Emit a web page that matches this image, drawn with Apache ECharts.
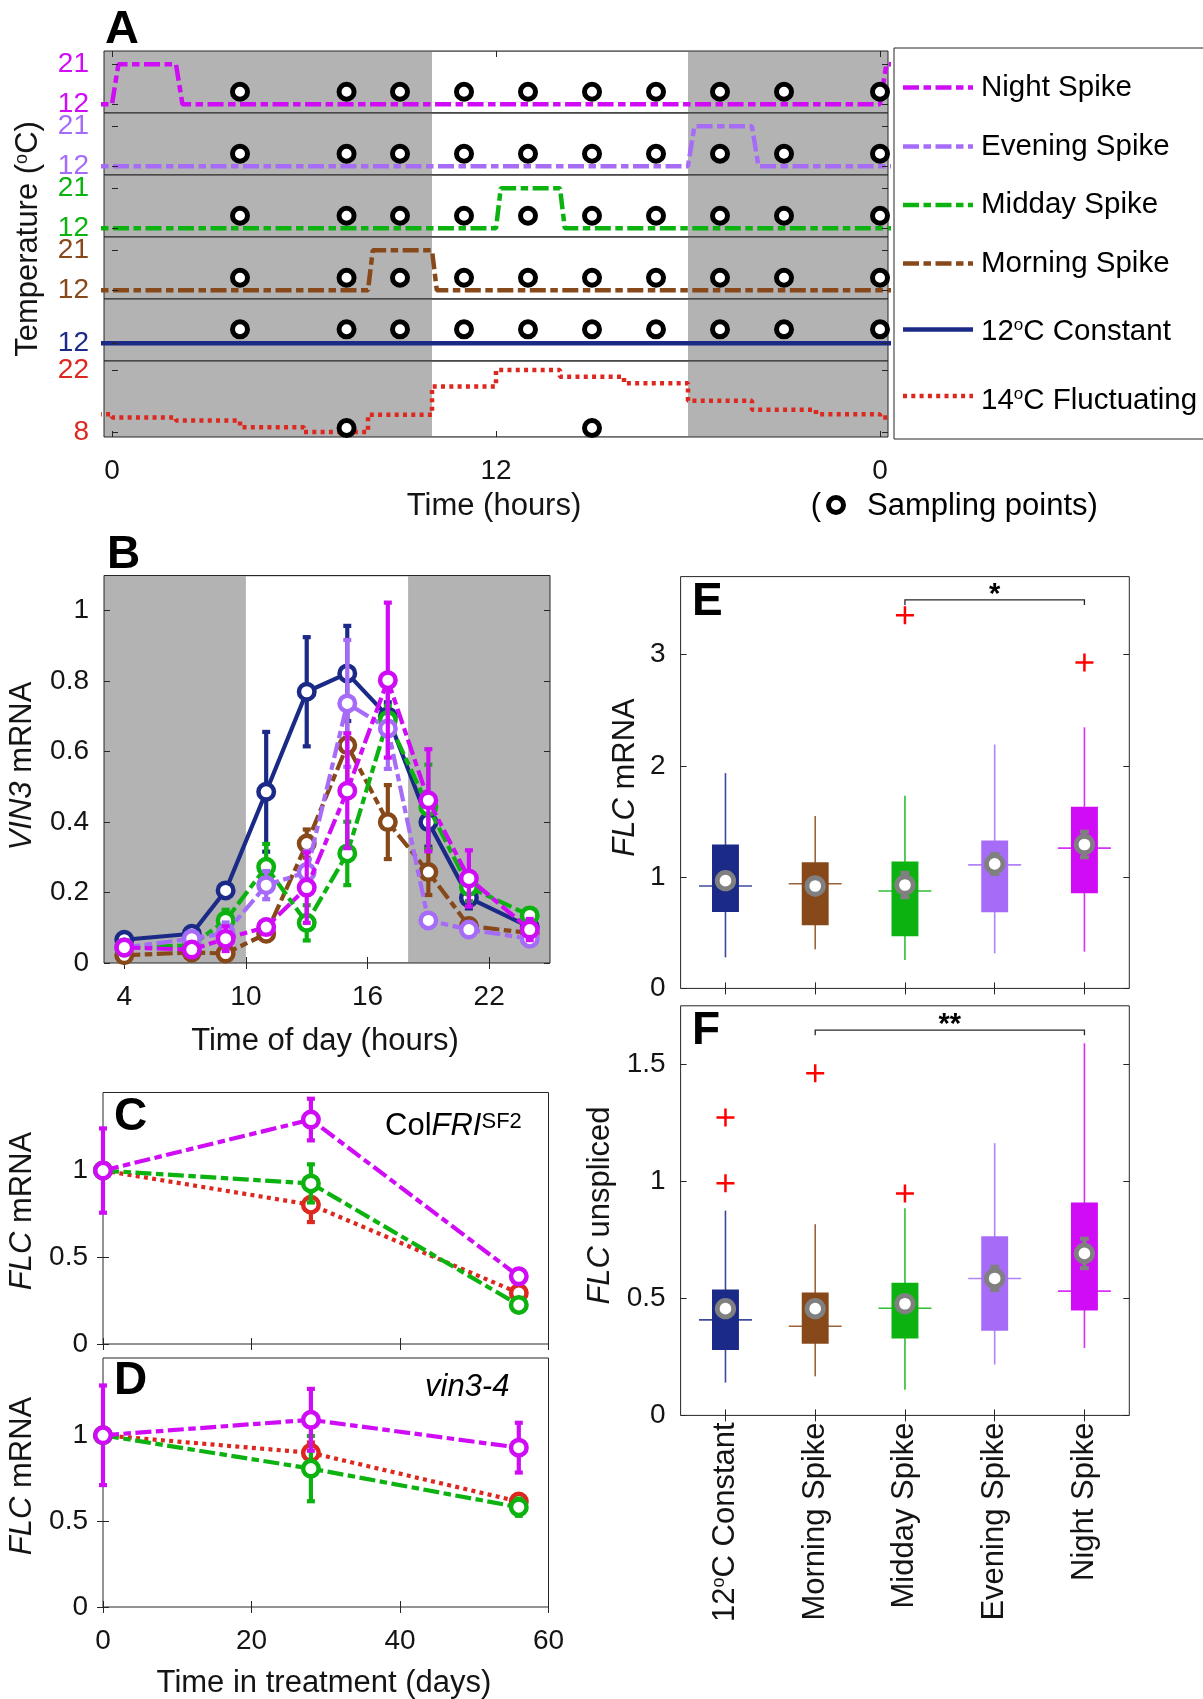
<!DOCTYPE html>
<html lang="en">
<head>
<meta charset="utf-8">
<title>Temperature spikes, VIN3 and FLC expression</title>
<script src="https://cdn.jsdelivr.net/npm/echarts@6/dist/echarts.min.js"></script>
<style>
  html, body { margin: 0; padding: 0; background: #ffffff; }
  #chart { width: 1203px; height: 1699px; }
</style>
</head>
<body>
<div id="chart"></div>
<script>
// ---------------- data ----------------

// Panel A: daily temperature regimes (hour of day -> degrees C).
// Hours outside 0-24 carry the cycle over from the neighbouring days.
const nightSpikeHours   = [-2, 0, 0.2, 2, 2.2, 24, 24.2, 26];
const nightSpikeTemps   = [12, 12, 21, 21, 12, 12, 21, 21];
const eveningSpikeHours = [-2, 18, 18.2, 20, 20.2, 26];
const eveningSpikeTemps = [12, 12, 21, 21, 12, 12];
const middaySpikeHours  = [-2, 12, 12.15, 14, 14.15, 26];
const middaySpikeTemps  = [12, 12, 21, 21, 12, 12];
const morningSpikeHours = [-2, 8, 8.15, 10, 10.15, 26];
const morningSpikeTemps = [12, 12, 21, 21, 12, 12];
const constantHours     = [-2, 26];
const constantTemps     = [12, 12];
// 14 C fluctuating regime: each value holds for two hours from the listed hour
const fluctHours = [-2, 0, 2, 4, 6, 8, 10, 12, 14, 16, 18, 20, 22, 24, 26];
const fluctTemps = [12.1, 11.35, 10.7, 9.2, 8.1, 11.95, 18.3, 22.0, 20.5, 19.0, 15.1, 13.1, 12.1, 11.35, 11.35];
const lightHours = [10, 18];                 // lights on, lights off
const samplingHours = [4, 7.33, 9, 11, 13, 15, 17, 19, 21, 24];
const fluctSamplingHours = [7.33, 15];
const dayHourTicks = [0, 12, 24];
const spikeTempTicks = [12, 21];
const constantTempTicks = [12];
const fluctTempTicks = [8, 22];

// Panel B: VIN3 mRNA through the day (mean, error)
const vin3Hours = [4, 7.33, 9, 11, 13, 15, 17, 19, 21, 24];
const vin3Constant    = [0.066, 0.083, 0.206, 0.486, 0.770, 0.822, 0.700, 0.400, 0.185, 0.102];
const vin3ConstantErr = [0.010, 0.010, 0.015, 0.170, 0.155, 0.135, 0.040, 0.070, 0.030, 0.010];
const vin3Morning     = [0.022, 0.030, 0.027, 0.083, 0.339, 0.618, 0.400, 0.258, 0.105, 0.085];
const vin3MorningErr  = [0.005, 0.005, 0.010, 0.020, 0.040, 0.120, 0.105, 0.065, 0.020, 0.010];
const vin3Midday      = [0.044, 0.050, 0.121, 0.273, 0.114, 0.311, 0.690, 0.443, 0.216, 0.135];
const vin3MiddayErr   = [0.010, 0.010, 0.030, 0.065, 0.050, 0.090, 0.040, 0.120, 0.040, 0.020];
const vin3Evening     = [0.044, 0.069, 0.085, 0.221, 0.258, 0.737, 0.666, 0.121, 0.095, 0.069];
const vin3EveningErr  = [0.005, 0.010, 0.030, 0.040, 0.060, 0.180, 0.115, 0.020, 0.015, 0.010];
const vin3Night       = [0.044, 0.038, 0.069, 0.102, 0.214, 0.489, 0.803, 0.462, 0.240, 0.095];
const vin3NightErr    = [0.005, 0.010, 0.035, 0.020, 0.100, 0.163, 0.220, 0.145, 0.080, 0.030];
const vin3HourTicks = [4, 10, 16, 22];
const vin3Ticks = [0, 0.2, 0.4, 0.6, 0.8, 1];

// Panels C and D: FLC mRNA over weeks of treatment
const treatmentDays = [0, 28, 56];
const colFlcNight     = [1, 1.294, 0.390];
const colFlcNightErr  = [0.243, 0.120, 0.030];
const colFlcMidday    = [1, 0.926, 0.225];
const colFlcMiddayErr = [0, 0.110, 0.020];
const colFlcFluct     = [1, 0.803, 0.294];
const colFlcFluctErr  = [0, 0.100, 0.020];
const vinFlcNight     = [1, 1.090, 0.928];
const vinFlcNightErr  = [0.290, 0.180, 0.145];
const vinFlcMidday    = [1, 0.806, 0.581];
const vinFlcMiddayErr = [0, 0.190, 0.050];
const vinFlcFluct     = [1, 0.898, 0.614];
const vinFlcFluctErr  = [0, 0.060, 0.030];
const dayTicks = [0, 20, 40, 60];
const flcTimeTicks = [0, 0.5, 1];

// Panels E and F: distributions per treatment
const treatments = ['12°C Constant', 'Morning Spike', 'Midday Spike', 'Evening Spike', 'Night Spike'];
const flcLow    = [0.279, 0.351, 0.255, 0.315, 0.330];
const flcQ1     = [0.686, 0.567, 0.468, 0.684, 0.854];
const flcMedian = [0.920, 0.940, 0.875, 1.110, 1.260];
const flcQ3     = [1.293, 1.134, 1.140, 1.328, 1.633];
const flcHigh   = [1.934, 1.549, 1.731, 2.191, 2.346];
const flcMean   = [0.968, 0.920, 0.929, 1.118, 1.293];
const flcMeanErr = [0.040, 0.040, 0.110, 0.090, 0.115];
const flcOutliers = [['Midday Spike', 3.352], ['Night Spike', 2.928]];
const flcSignif = ['Midday Spike', 'Night Spike', 3.49, '*'];
const flcTicks = [0, 1, 2, 3];

const unsplicedLow    = [0.140, 0.167, 0.110, 0.217, 0.288];
const unsplicedQ1     = [0.279, 0.306, 0.329, 0.362, 0.448];
const unsplicedMedian = [0.408, 0.381, 0.458, 0.585, 0.531];
const unsplicedQ3     = [0.538, 0.525, 0.567, 0.765, 0.910];
const unsplicedHigh   = [0.875, 0.817, 0.885, 1.163, 1.590];
const unsplicedMean   = [0.456, 0.456, 0.477, 0.585, 0.692];
const unsplicedMeanErr = [0.030, 0.030, 0.030, 0.050, 0.063];
const unsplicedOutliers = [['12°C Constant', 1.273], ['12°C Constant', 0.992], ['Morning Spike', 1.462], ['Midday Spike', 0.948]];
const unsplicedSignif = ['Morning Spike', 'Night Spike', 1.646, '**'];
const unsplicedTicks = [0, 0.5, 1, 1.5];

// ---------------- styles ----------------
const FONT = '"Liberation Sans", Arial, Helvetica, sans-serif';
const INK = '#141414';
const AXIS = '#262626';
const SHADE = '#b3b3b3';
const MEAN_GREY = '#808080';
const COLOR = {
  night: '#d00cf7',
  evening: '#a66cf8',
  midday: '#0cb20f',
  morning: '#87481a',
  constant: '#1b2a87',
  fluct: '#dc281e'
};
const DASHDOT = [16, 4.5, 7.5, 4.5];
const DOTTED = [4, 4.3];
const boxColors = [COLOR.constant, COLOR.morning, COLOR.midday, COLOR.evening, COLOR.night];
const SUP = { fontFamily: FONT, fontSize: 18, verticalAlign: 'top' };

// ---------------- builders ----------------
const grids = [], xAxes = [], yAxes = [], series = [], graphics = [];

function addGrid(left, top, width, height, bg) {
  grids.push({
    show: true, left, top, width, height,
    backgroundColor: bg || 'transparent',
    borderColor: AXIS, borderWidth: 1,
    containLabel: false, outerBoundsMode: 'none'
  });
  return grids.length - 1;
}
function addX(ax) { xAxes.push(ax); return xAxes.length - 1; }
function addY(ax) { yAxes.push(ax); return yAxes.length - 1; }

function tickCfg(values) {
  return values
    ? { show: true, inside: true, length: 6, customValues: values, lineStyle: { color: AXIS, width: 1 } }
    : { show: false };
}
function labelCfg(values, extra) {
  if (!extra) return { show: false };
  return Object.assign({ show: true, customValues: values, fontFamily: FONT, fontSize: 28, color: INK, margin: 15 }, extra);
}
function valAxis(g, pos, min, max, ticks, label) {
  return {
    type: 'value', gridIndex: g, position: pos, min, max, z: 4,
    axisLine: { show: false }, splitLine: { show: false }, splitArea: { show: false },
    axisTick: tickCfg(ticks), axisLabel: labelCfg(ticks, label), axisPointer: { show: false }
  };
}
function catAxis(g, pos, label) {
  return {
    type: 'category', gridIndex: g, position: pos, data: treatments, boundaryGap: true, z: 4,
    axisLine: { show: false }, splitLine: { show: false },
    axisTick: { show: true, inside: true, length: 6, alignWithLabel: true, interval: 0, lineStyle: { color: AXIS, width: 1 } },
    axisLabel: label
      ? Object.assign({ show: true, interval: 0, fontFamily: FONT, color: INK }, label)
      : { show: false },
    axisPointer: { show: false }
  };
}

// white daytime band over the shaded night background
function lightSeries(xi, yi) {
  return {
    type: 'custom', xAxisIndex: xi, yAxisIndex: yi, z: 1, silent: true,
    data: [lightHours], encode: { x: [0, 1] },
    renderItem(params, api) {
      const cs = params.coordSys;
      const a = api.coord([api.value(0), 0])[0];
      const b = api.coord([api.value(1), 0])[0];
      return { type: 'rect', shape: { x: a, y: cs.y + 1, width: b - a, height: cs.height - 2 }, style: { fill: '#ffffff' } };
    }
  };
}

function errorBars(xi, yi, xs, vals, errs, color, z, capHalf, width) {
  return {
    type: 'custom', xAxisIndex: xi, yAxisIndex: yi, z, silent: true, clip: false,
    data: xs.map((x, k) => [x, vals[k] - errs[k], vals[k] + errs[k]]),
    encode: { x: 0, y: [1, 2] },
    renderItem(params, api) {
      const lo = api.coord([api.value(0), api.value(1)]);
      const hi = api.coord([api.value(0), api.value(2)]);
      if (Math.abs(lo[1] - hi[1]) < 0.5) return null;
      const style = { stroke: color, lineWidth: width, lineCap: 'butt' };
      return {
        type: 'group', children: [
          { type: 'line', shape: { x1: lo[0], y1: lo[1], x2: hi[0], y2: hi[1] }, style },
          { type: 'line', shape: { x1: lo[0] - capHalf, y1: lo[1], x2: lo[0] + capHalf, y2: lo[1] }, style },
          { type: 'line', shape: { x1: hi[0] - capHalf, y1: hi[1], x2: hi[0] + capHalf, y2: hi[1] }, style }
        ]
      };
    }
  };
}

function markerLine(xi, yi, name, xs, vals, color, dash, z) {
  return {
    type: 'line', name, xAxisIndex: xi, yAxisIndex: yi, z, silent: true, clip: false,
    data: xs.map((x, k) => [x, vals[k]]),
    symbol: 'circle', symbolSize: 15.5, showSymbol: true,
    itemStyle: { color: '#ffffff', borderColor: color, borderWidth: 4.5, opacity: 1 },
    lineStyle: { color, width: 4.2, type: dash, cap: 'butt' },
    emphasis: { disabled: true }
  };
}

function boxSeries(xi, yi, low, q1, med, q3, high) {
  return {
    type: 'custom', xAxisIndex: xi, yAxisIndex: yi, z: 2, silent: true, clip: false,
    data: treatments.map((t, k) => [t, low[k], q1[k], med[k], q3[k], high[k]]),
    encode: { x: 0, y: [1, 2, 3, 4, 5] },
    renderItem(params, api) {
      const c = api.value(0);
      const band = api.size([1, 0])[0];
      const pLow = api.coord([c, api.value(1)]);
      const pQ1 = api.coord([c, api.value(2)]);
      const pMed = api.coord([c, api.value(3)]);
      const pQ3 = api.coord([c, api.value(4)]);
      const pHigh = api.coord([c, api.value(5)]);
      const color = boxColors[params.dataIndex];
      const cx = pLow[0], bw = band * 0.3, mw = band * 0.59;
      return {
        type: 'group', children: [
          { type: 'line', shape: { x1: cx, y1: pHigh[1], x2: cx, y2: pLow[1] }, style: { stroke: color, lineWidth: 1.6, opacity: 0.85 } },
          { type: 'rect', shape: { x: cx - bw / 2, y: pQ3[1], width: bw, height: pQ1[1] - pQ3[1] }, style: { fill: color } },
          { type: 'line', shape: { x1: cx - mw / 2, y1: pMed[1], x2: cx + mw / 2, y2: pMed[1] }, style: { stroke: color, lineWidth: 1.6, opacity: 0.85 } }
        ]
      };
    }
  };
}

function meanSeries(xi, yi, mean) {
  return {
    type: 'scatter', xAxisIndex: xi, yAxisIndex: yi, z: 4, silent: true, clip: false,
    data: treatments.map((t, k) => [t, mean[k]]),
    symbol: 'circle', symbolSize: 16.5,
    itemStyle: { color: '#ffffff', borderColor: MEAN_GREY, borderWidth: 4.8, opacity: 1 }
  };
}

const PLUS = 'path://M4.3,0H5.7V4.3H10V5.7H5.7V10H4.3V5.7H0V4.3H4.3Z';
function outlierSeries(xi, yi, pts) {
  return {
    type: 'scatter', xAxisIndex: xi, yAxisIndex: yi, z: 5, silent: true, clip: false,
    data: pts, symbol: PLUS, symbolSize: 18, symbolKeepAspect: true,
    itemStyle: { color: '#ff0000', opacity: 1 }
  };
}

function signifSeries(xi, yi, sig) {
  return {
    type: 'custom', xAxisIndex: xi, yAxisIndex: yi, z: 5, silent: true, clip: false,
    data: [[treatments.indexOf(sig[0]), treatments.indexOf(sig[1]), sig[2]]],
    encode: { x: [0, 1], y: 2 },
    renderItem(params, api) {
      const a = api.coord([api.value(0), api.value(2)]);
      const b = api.coord([api.value(1), api.value(2)]);
      return {
        type: 'group', children: [
          { type: 'polyline', shape: { points: [[a[0], a[1] + 5], a, b, [b[0], b[1] + 5]] }, style: { stroke: AXIS, lineWidth: 1.3, fill: null } },
          { type: 'text', style: {
              text: sig[3], x: (a[0] + b[0]) / 2, y: a[1] - 5,
              align: 'center', verticalAlign: 'middle', textAlign: 'center', textVerticalAlign: 'middle',
              fontFamily: FONT, fontSize: 29, fontWeight: 'bold', fill: '#000000' } }
        ]
      };
    }
  };
}

function txt(text, x, y, o) {
  o = o || {};
  const al = o.align || 'center';
  return {
    type: 'text', x, y, rotation: o.rot || 0, silent: true, z: 100,
    style: {
      text, fill: o.color || INK, fontFamily: FONT, fontSize: o.size || 31,
      fontWeight: o.weight || 'normal', fontStyle: o.italic ? 'italic' : 'normal',
      align: al, verticalAlign: 'middle', textAlign: al, textVerticalAlign: 'middle',
      rich: o.rich
    }
  };
}

// ---------------- panel A: temperature regimes ----------------
const aRows = [
  { name: 'Night Spike', hours: nightSpikeHours, temps: nightSpikeTemps, color: COLOR.night, dash: DASHDOT, range: [10, 24], ticks: spikeTempTicks, marks: samplingHours, level: 14.8 },
  { name: 'Evening Spike', hours: eveningSpikeHours, temps: eveningSpikeTemps, color: COLOR.evening, dash: DASHDOT, range: [10, 24], ticks: spikeTempTicks, marks: samplingHours, level: 14.8 },
  { name: 'Midday Spike', hours: middaySpikeHours, temps: middaySpikeTemps, color: COLOR.midday, dash: DASHDOT, range: [10, 24], ticks: spikeTempTicks, marks: samplingHours, level: 14.8 },
  { name: 'Morning Spike', hours: morningSpikeHours, temps: morningSpikeTemps, color: COLOR.morning, dash: DASHDOT, range: [10, 24], ticks: spikeTempTicks, marks: samplingHours, level: 14.8 },
  { name: '12°C Constant', hours: constantHours, temps: constantTemps, color: COLOR.constant, dash: 'solid', range: [8, 22], ticks: constantTempTicks, marks: samplingHours, level: 15.15 },
  { name: '14°C Fluctuating', hours: fluctHours, temps: fluctTemps, color: COLOR.fluct, dash: DOTTED, range: [7, 24], ticks: fluctTempTicks, marks: fluctSamplingHours, level: 9, step: 'end' }
];
const A_TOP = [51, 113, 175, 237, 299, 361];
const A_H = [62, 62, 62, 62, 62, 76];

aRows.forEach((row, i) => {
  const g = addGrid(104, A_TOP[i], 784, A_H[i], SHADE);
  const first = i === 0, last = i === aRows.length - 1;
  const xi = addX(valAxis(g, first ? 'top' : 'bottom', -0.25, 24.25,
    (first || last) ? dayHourTicks : null,
    last ? { margin: 20, formatter: v => String(v % 24) } : null));
  const yi = addY(valAxis(g, 'left', row.range[0], row.range[1], row.ticks, { color: row.color, margin: 15 }));
  addY(valAxis(g, 'right', row.range[0], row.range[1], row.ticks, null));
  series.push(lightSeries(xi, yi));
  series.push({
    type: 'line', name: row.name, xAxisIndex: xi, yAxisIndex: yi, z: 2, silent: true,
    data: row.hours.map((h, k) => [h, row.temps[k]]),
    step: row.step || false, symbol: 'none',
    lineStyle: { color: row.color, width: 4.5, type: row.dash, cap: 'butt' },
    emphasis: { disabled: true }
  });
  series.push({
    type: 'scatter', xAxisIndex: xi, yAxisIndex: yi, z: 3, silent: true, clip: false,
    data: row.marks.map(h => [h, row.level]),
    symbol: 'circle', symbolSize: 15,
    itemStyle: { color: '#ffffff', borderColor: '#000000', borderWidth: 5, opacity: 1 }
  });
});

// legend box for panel A
graphics.push({ type: 'rect', shape: { x: 894, y: 48, width: 330, height: 391 }, style: { fill: null, stroke: AXIS, lineWidth: 1 }, silent: true, z: 90 });
const legendRows = [
  { label: 'Night Spike', color: COLOR.night, dash: DASHDOT, y: 87.5, ty: 87.5 },
  { label: 'Evening Spike', color: COLOR.evening, dash: DASHDOT, y: 146.5, ty: 146.5 },
  { label: 'Midday Spike', color: COLOR.midday, dash: DASHDOT, y: 205, ty: 205 },
  { label: 'Morning Spike', color: COLOR.morning, dash: DASHDOT, y: 263.5, ty: 263.5 },
  { label: '12°C Constant', color: COLOR.constant, dash: null, y: 329.5, ty: 332 },
  { label: '14°C Fluctuating', color: COLOR.fluct, dash: DOTTED, y: 396, ty: 401 }
];
legendRows.forEach(r => {
  graphics.push({ type: 'line', silent: true, z: 95,
    shape: { x1: 903, y1: r.y, x2: 973, y2: r.y },
    style: { stroke: r.color, lineWidth: 4.5, lineDash: r.dash, lineCap: 'butt' } });
  graphics.push(txt(r.label.replace('°', '{sup|o}'), 981, r.ty, { size: 29.5, align: 'left', color: '#000000', rich: { sup: Object.assign({}, SUP, { fontSize: 17 }) } }));
});

graphics.push(txt('A', 105, 30, { size: 47, weight: 'bold', align: 'left', color: '#000000' }));
graphics.push(txt('Temperature ({sup|o}C)', 28.5, 239, { rot: Math.PI / 2, rich: { sup: SUP } }));
graphics.push(txt('Time (hours)', 494, 506));
graphics.push(txt('(', 816, 506, { color: '#000000' }));
graphics.push({ type: 'circle', silent: true, z: 100, shape: { cx: 836, cy: 505, r: 7.5 }, style: { fill: '#ffffff', stroke: '#000000', lineWidth: 5 } });
graphics.push(txt('Sampling points)', 867, 506, { align: 'left', color: '#000000' }));

// ---------------- panel B: VIN3 through the day ----------------
const gB = addGrid(104, 575.5, 446, 387.5, SHADE);
const xB = addX(valAxis(gB, 'bottom', 3, 25, vin3HourTicks, { margin: 20 }));
addX(valAxis(gB, 'top', 3, 25, vin3HourTicks, null));
const yB = addY(valAxis(gB, 'left', 0, 1.1, vin3Ticks, { margin: 15 }));
addY(valAxis(gB, 'right', 0, 1.1, vin3Ticks, null));
series.push(lightSeries(xB, yB));
const vin3Groups = [
  { name: '12°C Constant', v: vin3Constant, e: vin3ConstantErr, color: COLOR.constant, dash: 'solid' },
  { name: 'Morning Spike', v: vin3Morning, e: vin3MorningErr, color: COLOR.morning, dash: DASHDOT },
  { name: 'Midday Spike', v: vin3Midday, e: vin3MiddayErr, color: COLOR.midday, dash: DASHDOT },
  { name: 'Evening Spike', v: vin3Evening, e: vin3EveningErr, color: COLOR.evening, dash: DASHDOT },
  { name: 'Night Spike', v: vin3Night, e: vin3NightErr, color: COLOR.night, dash: DASHDOT }
];
vin3Groups.forEach((grp, i) => {
  series.push(errorBars(xB, yB, vin3Hours, grp.v, grp.e, grp.color, 10 + i * 2, 4, 4.2));
  series.push(markerLine(xB, yB, grp.name, vin3Hours, grp.v, grp.color, grp.dash, 11 + i * 2));
});
graphics.push(txt('B', 107, 555, { size: 46, weight: 'bold', align: 'left', color: '#000000' }));
graphics.push(txt('{it|VIN3} mRNA', 22, 766, { rot: Math.PI / 2, rich: { it: { fontFamily: FONT, fontSize: 31, fontStyle: 'italic' } } }));
graphics.push(txt('Time of day (hours)', 325, 1041));

// ---------------- panels C and D: FLC over treatment ----------------
function flcPanel(top, height, groups, showDays) {
  const g = addGrid(103, top, 445.5, height, '#ffffff');
  const xi = addX(valAxis(g, 'bottom', 0, 60, dayTicks, showDays ? { margin: 20 } : null));
  addX(valAxis(g, 'top', 0, 60, dayTicks, null));
  const yi = addY(valAxis(g, 'left', 0, 1.45, flcTimeTicks, { margin: 15 }));
  addY(valAxis(g, 'right', 0, 1.45, flcTimeTicks, null));
  groups.forEach((grp, i) => {
    series.push(errorBars(xi, yi, treatmentDays, grp.v, grp.e, grp.color, 10 + i * 2, 4, 4.2));
    series.push(markerLine(xi, yi, grp.name, treatmentDays, grp.v, grp.color, grp.dash, 11 + i * 2));
  });
}
flcPanel(1092.5, 251.5, [
  { name: '14°C Fluctuating', v: colFlcFluct, e: colFlcFluctErr, color: COLOR.fluct, dash: DOTTED },
  { name: 'Midday Spike', v: colFlcMidday, e: colFlcMiddayErr, color: COLOR.midday, dash: DASHDOT },
  { name: 'Night Spike', v: colFlcNight, e: colFlcNightErr, color: COLOR.night, dash: DASHDOT }
], false);
flcPanel(1358, 249, [
  { name: '14°C Fluctuating', v: vinFlcFluct, e: vinFlcFluctErr, color: COLOR.fluct, dash: DOTTED },
  { name: 'Midday Spike', v: vinFlcMidday, e: vinFlcMiddayErr, color: COLOR.midday, dash: DASHDOT },
  { name: 'Night Spike', v: vinFlcNight, e: vinFlcNightErr, color: COLOR.night, dash: DASHDOT }
], true);
const flcRich = { it: { fontFamily: FONT, fontSize: 31, fontStyle: 'italic' } };
graphics.push(txt('C', 114, 1117, { size: 46, weight: 'bold', align: 'left', color: '#000000' }));
graphics.push(txt('D', 114, 1381, { size: 46, weight: 'bold', align: 'left', color: '#000000' }));
graphics.push(txt('Col{it|FRI}{sup|SF2}', 385, 1126, { align: 'left', color: '#000000',
  rich: { it: { fontFamily: FONT, fontSize: 31, fontStyle: 'italic' }, sup: { fontFamily: FONT, fontSize: 22, verticalAlign: 'top' } } }));
graphics.push(txt('vin3-4', 425, 1387, { align: 'left', italic: true, color: '#000000' }));
graphics.push(txt('{it|FLC} mRNA', 22, 1211, { rot: Math.PI / 2, rich: flcRich }));
graphics.push(txt('{it|FLC} mRNA', 22, 1476, { rot: Math.PI / 2, rich: flcRich }));
graphics.push(txt('Time in treatment (days)', 324, 1683));

// ---------------- panels E and F: distributions ----------------
function distPanel(top, height, yMax, ticks, showCats, d) {
  const g = addGrid(680.6, top, 448.7, height, '#ffffff');
  const xi = addX(catAxis(g, 'bottom', showCats ? {
    rotate: 90, margin: 7, fontSize: 31,
    formatter: name => name.replace('°', '{sup|o}'),
    rich: { sup: SUP }
  } : null));
  addX(catAxis(g, 'top', null));
  const yi = addY(valAxis(g, 'left', 0, yMax, ticks, { margin: 15 }));
  addY(valAxis(g, 'right', 0, yMax, ticks, null));
  series.push(boxSeries(xi, yi, d.low, d.q1, d.med, d.q3, d.high));
  series.push(errorBars(xi, yi, treatments, d.mean, d.err, MEAN_GREY, 3, 4.5, 4));
  series.push(meanSeries(xi, yi, d.mean));
  series.push(outlierSeries(xi, yi, d.out));
  series.push(signifSeries(xi, yi, d.sig));
}
distPanel(576.6, 411.8, 3.7, flcTicks, false, {
  low: flcLow, q1: flcQ1, med: flcMedian, q3: flcQ3, high: flcHigh,
  mean: flcMean, err: flcMeanErr, out: flcOutliers, sig: flcSignif
});
distPanel(1005.8, 409.6, 1.75, unsplicedTicks, true, {
  low: unsplicedLow, q1: unsplicedQ1, med: unsplicedMedian, q3: unsplicedQ3, high: unsplicedHigh,
  mean: unsplicedMean, err: unsplicedMeanErr, out: unsplicedOutliers, sig: unsplicedSignif
});
graphics.push(txt('E', 692, 602, { size: 46, weight: 'bold', align: 'left', color: '#000000' }));
graphics.push(txt('F', 692, 1031, { size: 46, weight: 'bold', align: 'left', color: '#000000' }));
graphics.push(txt('{it|FLC} mRNA', 625.5, 777.5, { rot: Math.PI / 2, rich: flcRich }));
graphics.push(txt('{it|FLC} unspliced', 600, 1205.5, { rot: Math.PI / 2, rich: flcRich }));

// ---------------- render ----------------
const chart = echarts.init(document.getElementById('chart'), null, { renderer: 'canvas', width: 1203, height: 1699 });
chart.setOption({
  animation: false,
  textStyle: { fontFamily: FONT },
  tooltip: { show: false },
  grid: grids,
  xAxis: xAxes,
  yAxis: yAxes,
  series: series,
  graphic: { elements: graphics }
});
</script>
</body>
</html>
